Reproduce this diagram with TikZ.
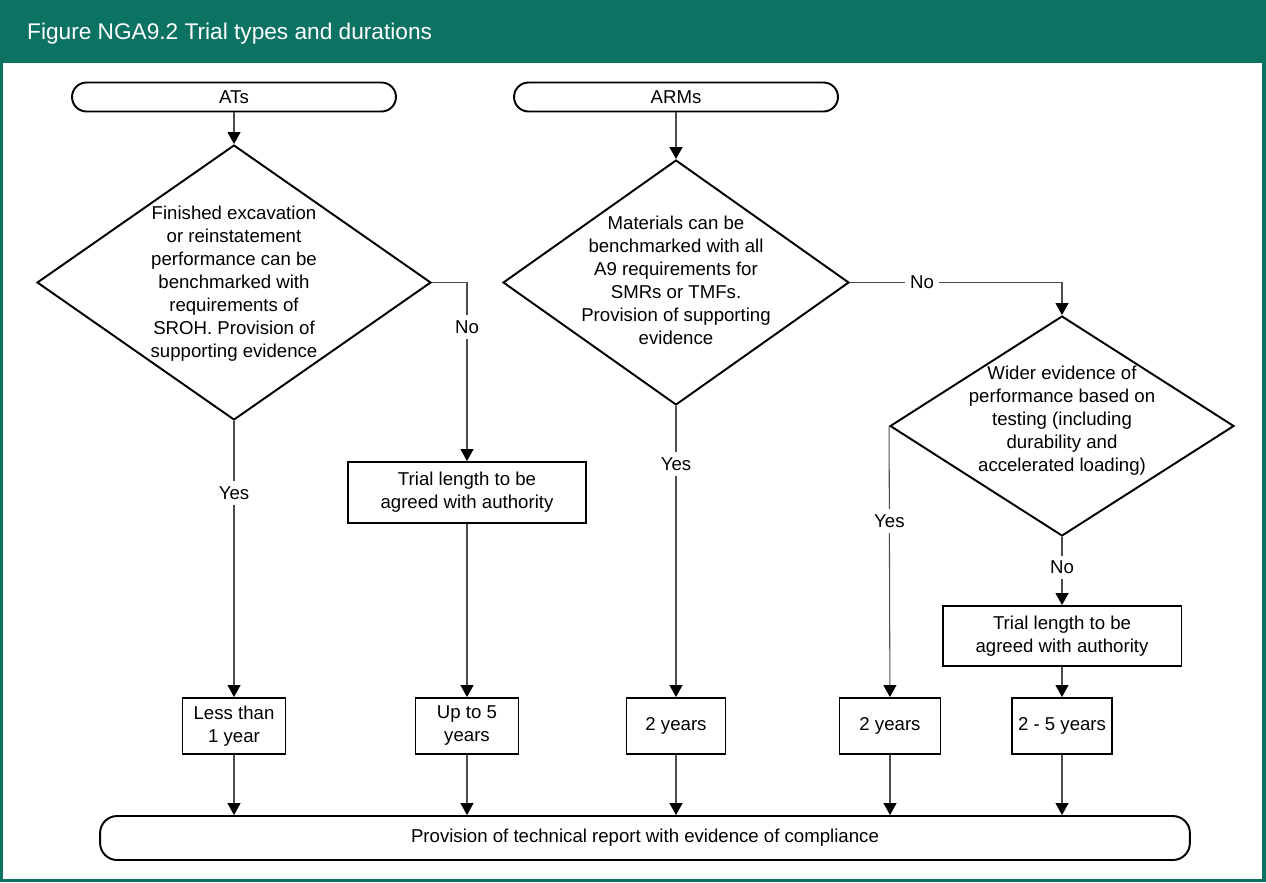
\documentclass[tikz,border=0pt]{standalone}
\usepackage{fontspec}
\setmainfont{Liberation Sans}
\usetikzlibrary{shapes.geometric,arrows.meta}
\definecolor{vertfonce}{RGB}{12,115,99}
\begin{document}
\begin{tikzpicture}[x=0.02cm,y=-0.02cm,every node/.style={font=\fontsize{10.6}{13.1}\selectfont}]
        \tikzstyle{terminal}=[draw,line width=1.1pt,rounded corners=0.29cm,minimum width=6.48cm,minimum height=0.58cm,inner sep=0pt]
        \tikzstyle{losange}=[diamond,draw,line width=1.1pt,inner sep=0pt]
        \tikzstyle{texte}=[align=center,inner sep=0pt]
        \tikzstyle{boite}=[draw,line width=1.1pt,align=center,inner sep=0pt,minimum height=1.12cm]
        \tikzstyle{fleche}=[draw=black!70,line width=0.6pt,-{Triangle[width=0.26cm,length=0.24cm,color=black]}]
        \tikzstyle{etiquette}=[fill=white,inner sep=3pt]
        \useasboundingbox (0,0) rectangle (1266,882);
        \fill[vertfonce] (0,0) rectangle (1266,882);
        \fill[white] (3,63) rectangle (1262,879);
        \node[anchor=west,text=white,font=\fontsize{12.9}{15}\selectfont] (0) at (21,34) {Figure NGA9.2 Trial types and durations};
        \node[terminal] (1) at (234,97) {ATs};
        \node[terminal] (2) at (676,97) {ARMs};
        \node[losange,minimum width=7.88cm,minimum height=5.5cm] (3) at (234,282.5) {};
        \node[texte] (3t) at (234,284) {Finished excavation\\or reinstatement\\performance can be\\benchmarked with\\requirements of\\SROH. Provision of\\supporting evidence};
        \node[losange,minimum width=6.92cm,minimum height=4.9cm] (4) at (676,282.5) {};
        \node[texte] (4t) at (676,280) {Materials can be\\benchmarked with all\\A9 requirements for\\SMRs or TMFs.\\Provision of supporting\\evidence};
        \node[losange,minimum width=6.88cm,minimum height=4.4cm] (5) at (1062,426) {};
        \node[texte] (5t) at (1062,421) {Wider evidence of\\performance based on\\testing (including\\durability and\\accelerated loading)};
        \node[boite,minimum width=4.76cm,minimum height=1.22cm] (6) at (467,492.5) {Trial length to be\\agreed with authority};
        \node[boite,minimum width=4.78cm,minimum height=1.2cm] (7) at (1062,636) {Trial length to be\\agreed with authority};
        \node[boite,minimum width=2.06cm] (8) at (234,726) {Less than\\1 year};
        \node[boite,minimum width=2.06cm] (9) at (467,726) {Up to 5\\years};
        \node[boite,minimum width=1.98cm] (10) at (676,726) {2 years};
        \node[boite,minimum width=2.02cm] (11) at (890,726) {2 years};
        \node[boite,minimum width=2.0cm] (12) at (1062,726) {2 - 5 years};
        \node[terminal,minimum width=21.8cm,minimum height=0.88cm,rounded corners=0.34cm] (13) at (645,838) {Provision of technical report with evidence of compliance};
        \draw[fleche] (1) -- (3);
        \draw[fleche] (2) -- (4);
        \draw[fleche] (3) -- node[etiquette,pos=0.26] {Yes} (8);
        \draw[fleche] (3.east) -| node[etiquette,pos=0.625] {No} (6);
        \draw[fleche] (4) -- node[etiquette,pos=0.2] {Yes} (10);
        \draw[fleche] (4.east) -| node[etiquette,pos=0.17] {No} (5);
        \draw[fleche] (5.west) -- node[etiquette,pos=0.35] {Yes} (11);
        \draw[fleche] (5) -- node[etiquette,pos=0.45] {No} (7);
        \draw[fleche] (6) -- (9);
        \draw[fleche] (7) -- (12);
        \draw[fleche] (8) -- (8 |- 13.north);
        \draw[fleche] (9) -- (9 |- 13.north);
        \draw[fleche] (10) -- (10 |- 13.north);
        \draw[fleche] (11) -- (11 |- 13.north);
        \draw[fleche] (12) -- (12 |- 13.north);
    \end{tikzpicture}
\end{document}
